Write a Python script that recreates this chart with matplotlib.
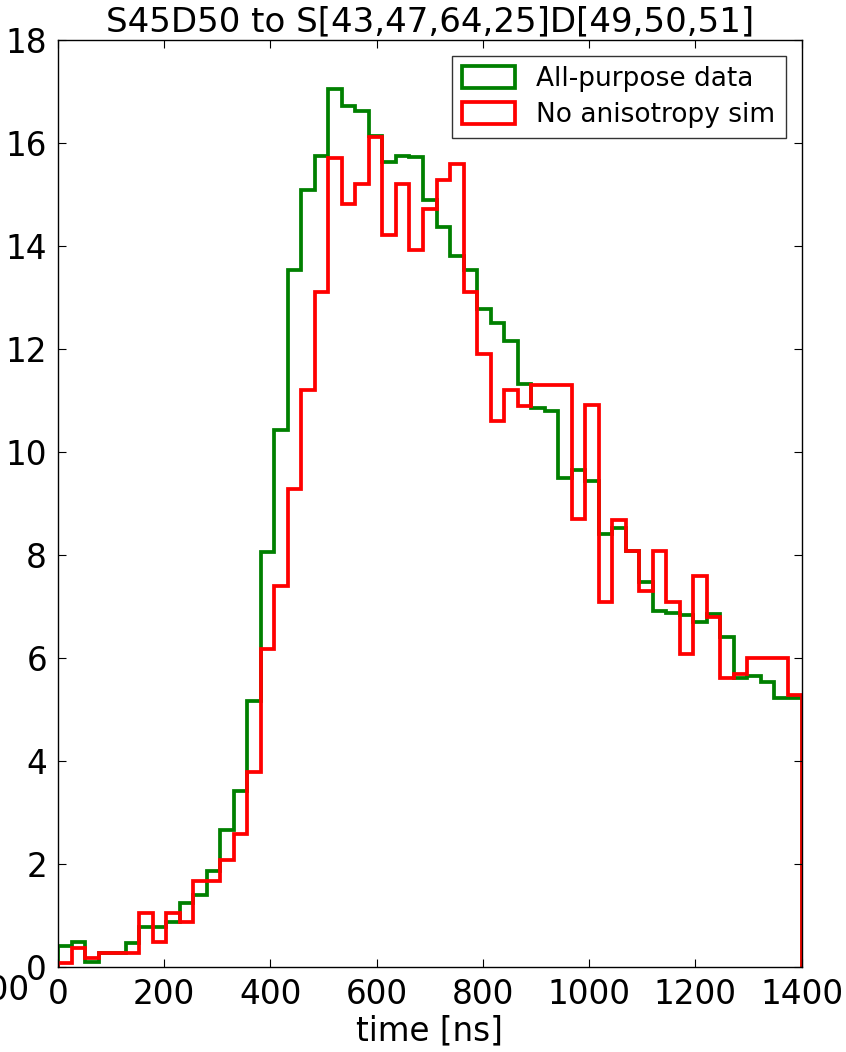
import numpy as np
import matplotlib
matplotlib.use("Agg")
import matplotlib.pyplot as plt
from matplotlib.patches import Patch

# Arrival-time histograms, 55 equal bins over 0-1400 ns
t_min, t_max, n_bins = 0.0, 1400.0, 55
edges = np.linspace(t_min, t_max, n_bins + 1)

data_counts = [0.41, 0.49, 0.10, 0.28, 0.28, 0.47, 0.78, 0.78, 0.88, 1.25,
               1.41, 1.87, 2.66, 3.43, 5.17, 8.06, 10.43, 13.54, 15.09, 15.74,
               17.04, 16.72, 16.63, 16.13, 15.64, 15.75, 15.73, 14.90, 14.37, 13.80,
               13.53, 12.77, 12.51, 12.16, 11.33, 10.86, 10.80, 9.50, 9.65, 9.43,
               8.41, 8.53, 8.08, 7.47, 6.92, 6.87, 6.84, 6.71, 6.85, 6.41,
               5.61, 5.65, 5.54, 5.22, 5.23]

sim_counts = [0.08, 0.38, 0.19, 0.28, 0.28, 0.28, 1.06, 0.49, 1.06, 0.88,
              1.67, 1.67, 2.08, 2.58, 3.79, 6.18, 7.40, 9.29, 11.20, 13.10,
              15.71, 14.81, 15.20, 16.12, 14.21, 15.20, 13.92, 14.71, 15.29, 15.60,
              13.11, 11.90, 10.61, 11.20, 10.89, 11.31, 11.31, 11.31, 8.70, 10.91,
              7.10, 8.69, 8.08, 7.31, 8.08, 7.10, 6.09, 7.59, 6.80, 5.61,
              5.69, 6.01, 6.01, 6.01, 5.28]

labels = ["All-purpose data", "No anisotropy sim"]
colors = ["#008000", "#ff0000"]
title = "S45D50 to S[43,47,64,25]D[49,50,51]"
xticks = [0, 200, 400, 600, 800, 1000, 1200, 1400]
yticks = [0, 2, 4, 6, 8, 10, 12, 14, 16, 18]

plt.rcParams["font.family"] = ["DejaVu Sans"]
LW = 2.7

fig = plt.figure(figsize=(8.46, 10.52), dpi=100, facecolor="white")
ax = fig.add_axes([58 / 846, 1 - 967.3 / 1052, (801.5 - 58) / 846, (967.3 - 40) / 1052])

for counts, col in zip([data_counts, sim_counts], colors):
    ax.stairs(counts, edges, baseline=0, fill=False, color=col, linewidth=LW)

ax.set_xlim(t_min, t_max)
ax.set_ylim(0, 18)
ax.set_xticks(xticks)
ax.set_yticks(yticks)
ax.tick_params(direction="in", top=True, right=True, length=6, width=0.8,
               labelsize=23.5, pad=8)
for s in ax.spines.values():
    s.set_linewidth(1.0)

ax.set_title(title, fontsize=24.5, pad=6)
ax.set_xlabel("time [ns]", fontsize=23.5, labelpad=2)

handles = [Patch(facecolor="none", edgecolor=c, linewidth=LW) for c in colors]
leg = ax.legend(handles, labels, loc="upper right", fontsize=19, frameon=True,
                fancybox=False, borderaxespad=0.6, handlelength=2.0,
                handleheight=0.9, handletextpad=0.8, borderpad=0.4,
                labelspacing=0.35)
leg.get_frame().set_edgecolor("black")
leg.get_frame().set_linewidth(1.0)

# Tail of the neighbouring panel's last x tick label
fig.text(30 / 846, 1 - 990 / 1052, "1400", fontsize=23.5, ha="right", va="center")

fig.savefig("out.png", dpi=100, facecolor="white")
